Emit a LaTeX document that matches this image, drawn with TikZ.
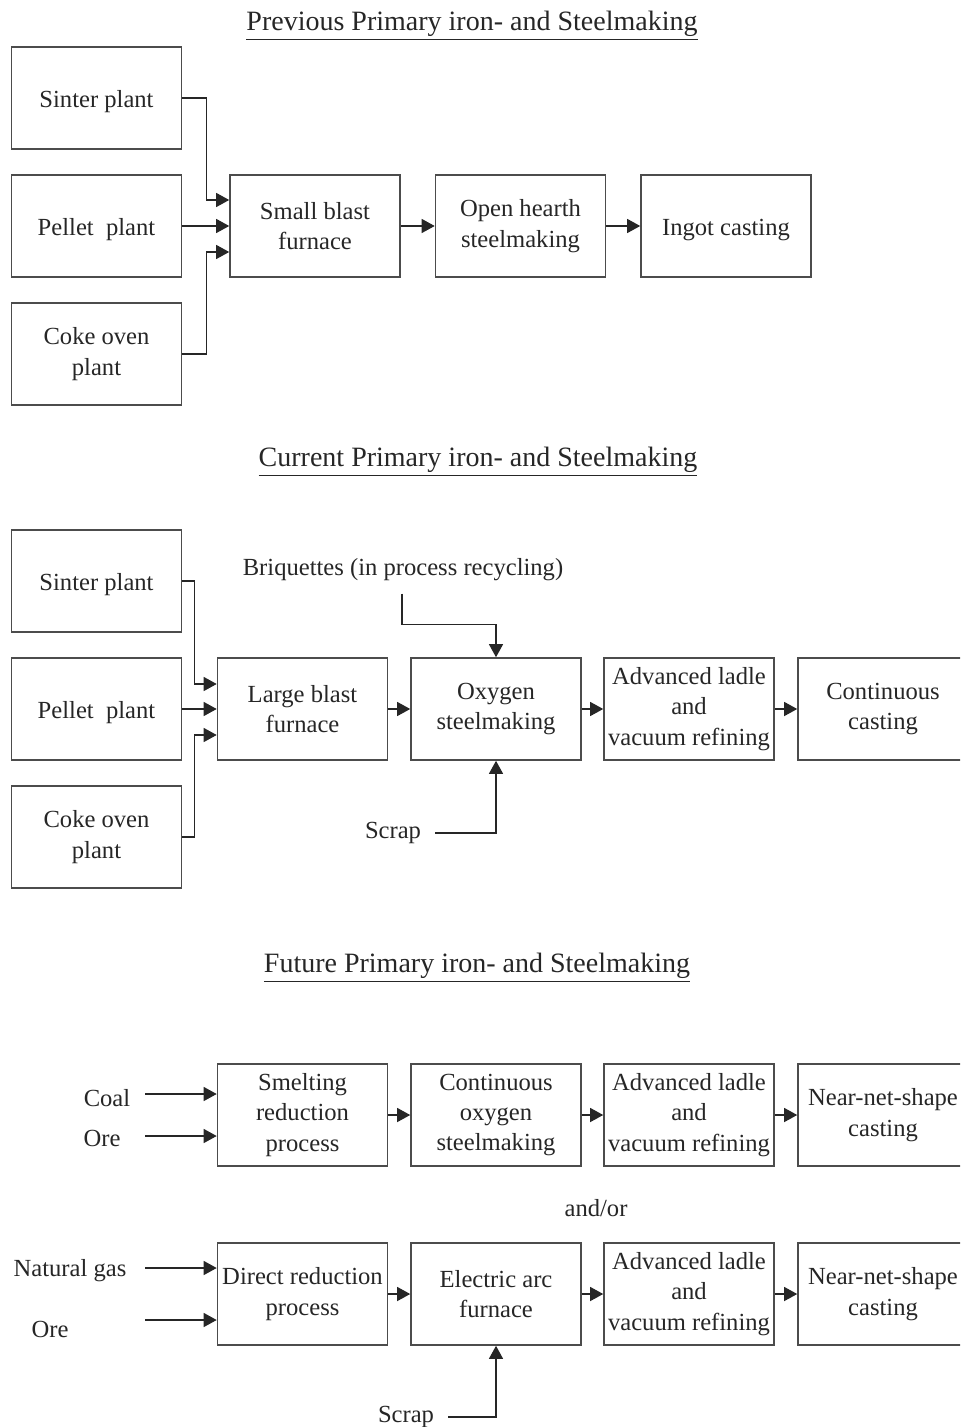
\documentclass[tikz,border=0pt]{standalone}
\usepackage{fontspec}
\setmainfont{Liberation Serif}
\usetikzlibrary{arrows.meta}
\tikzset{
  box/.style={draw=black!70, line width=0.8pt, minimum width=85pt, minimum height=51pt,
    align=center, inner sep=1pt, text=black!85, font=\fontsize{12.3}{15.2}\selectfont,
    execute at begin node={\rule{0pt}{12.4pt}}},
  flow/.style={draw=black!85, line width=0.6pt, -{Triangle[length=6.5pt,width=7pt]}},
  txt/.style={inner sep=0pt, yshift=-2pt, text=black!85, font=\fontsize{12.3}{15.2}\selectfont},
  heading/.style={inner sep=0pt, yshift=-2pt, text=black!85, font=\fontsize{14}{16}\selectfont}
}
\begin{document}
\begin{tikzpicture}[x=0.5pt,y=-0.5pt]
    \useasboundingbox (0,0) rectangle (960,1427);
    \clip (0,0) rectangle (960,1427);
    % previous
    \node [heading] (headprev) at (472,22) {\underline{Previous Primary iron- and Steelmaking}};
    \node [box] (sinter1) at (96.5,98) {Sinter plant};
    \node [box] (pellet1) at (96.5,226) {Pellet\ \ plant};
    \node [box] (coke1) at (96.5,354) {Coke oven\\plant};
    \node [box] (small) at (315,226) {Small blast\\furnace};
    \node [box] (hearth) at (520.5,226) {Open hearth\\steelmaking};
    \node [box] (ingot) at (726,226) {Ingot casting};
    \draw [flow] (sinter1.east) -- ++(24,0) |- ([yshift=13pt]small.west);
    \draw [flow] (pellet1.east) -- (small.west);
    \draw [flow] (coke1.east) -- ++(24,0) |- ([yshift=-13pt]small.west);
    \draw [flow] (small) -- (hearth);
    \draw [flow] (hearth) -- (ingot);
    % current
    \node [heading] (headcurr) at (478,458) {\underline{Current Primary iron- and Steelmaking}};
    \node [box] (sinter2) at (96.5,581) {Sinter plant};
    \node [box] (pellet2) at (96.5,709) {Pellet\ \ plant};
    \node [box] (coke2) at (96.5,837) {Coke oven\\plant};
    \node [box] (large) at (302.5,709) {Large blast\\furnace};
    \node [box] (oxygen) at (496,709) {Oxygen\\steelmaking};
    \node [box] (ladle1) at (689,709) {Advanced ladle\\and\\vacuum refining};
    \node [box] (contcast) at (883,709) {Continuous\\casting};
    \node [txt] (briq) at (403,566) {Briquettes (in process recycling)};
    \node [txt] (scrap1) at (393,829) {Scrap};
    \draw [flow] (sinter2.east) -- ++(12,0) |- ([yshift=12.5pt]large.west);
    \draw [flow] (pellet2.east) -- (large.west);
    \draw [flow] (coke2.east) -- ++(12,0) |- ([yshift=-13pt]large.west);
    \draw [flow] (large) -- (oxygen);
    \draw [flow] (oxygen) -- (ladle1);
    \draw [flow] (ladle1) -- (contcast);
    \draw [flow] ([xshift=-0.5pt,yshift=-6pt]briq.south) -- ++(0,31) -| (oxygen.north);
    \draw [flow] ([xshift=7pt]scrap1.east) -| (oxygen.south);
    % future
    \node [heading] (headfut) at (477,964) {\underline{Future Primary iron- and Steelmaking}};
    \node [box] (smelt) at (302.5,1115) {Smelting\\reduction\\process};
    \node [box] (contox) at (496,1115) {Continuous\\oxygen\\steelmaking};
    \node [box] (ladle2) at (689,1115) {Advanced ladle\\and\\vacuum refining};
    \node [box] (nns1) at (883,1115) {Near-net-shape\\casting};
    \node [txt] (coal) at (107,1094) {Coal};
    \node [txt] (ore1) at (102,1134) {Ore};
    \coordinate (coalin) at (145,1094);
    \coordinate (orein1) at (145,1136);
    \draw [flow] (coalin) -- (smelt.west |- coalin);
    \draw [flow] (orein1) -- (smelt.west |- orein1);
    \draw [flow] (smelt) -- (contox);
    \draw [flow] (contox) -- (ladle2);
    \draw [flow] (ladle2) -- (nns1);
    \node [txt] (andor) at (596,1204) {and/or};
    \node [box] (direct) at (302.5,1294) {Direct reduction\\process};
    \node [box] (eaf) at (496,1294) {Electric arc\\furnace};
    \node [box] (ladle3) at (689,1294) {Advanced ladle\\and\\vacuum refining};
    \node [box] (nns2) at (883,1294) {Near-net-shape\\casting};
    \node [txt] (gas) at (70,1267) {Natural gas};
    \node [txt] (ore2) at (50,1325) {Ore};
    \node [txt] (scrap2) at (406,1413) {Scrap};
    \coordinate (gasin) at (145,1268);
    \coordinate (orein2) at (145,1320);
    \draw [flow] (gasin) -- (direct.west |- gasin);
    \draw [flow] (orein2) -- (direct.west |- orein2);
    \draw [flow] (direct) -- (eaf);
    \draw [flow] (eaf) -- (ladle3);
    \draw [flow] (ladle3) -- (nns2);
    \draw [flow] ([xshift=7pt]scrap2.east) -| (eaf.south);
\end{tikzpicture}
\end{document}
